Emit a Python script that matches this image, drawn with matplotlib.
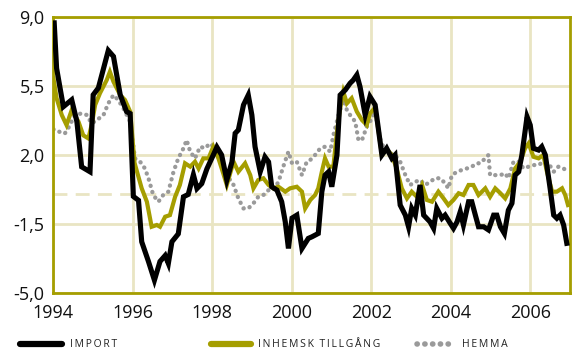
import matplotlib
matplotlib.use("Agg")
import matplotlib.pyplot as plt
from matplotlib.lines import Line2D

plt.rcParams["font.family"] = ["Open Sans", "DejaVu Sans"]

# --- data (decimal year, percent) ---
import_t = [1994.03, 1994.09, 1994.26, 1994.47, 1994.60, 1994.72, 1994.93, 1995.01, 1995.14, 1995.39,
            1995.52, 1995.69, 1995.85, 1995.94, 1996.02, 1996.15, 1996.23, 1996.40, 1996.55, 1996.69,
            1996.82, 1996.90, 1996.99, 1997.15, 1997.28, 1997.40, 1997.53, 1997.62, 1997.74, 1997.87,
            1998.03, 1998.12, 1998.24, 1998.37, 1998.50, 1998.58, 1998.66, 1998.79, 1998.91, 1999.00,
            1999.08, 1999.21, 1999.33, 1999.42, 1999.50, 1999.63, 1999.75, 1999.84, 1999.92, 2000.01,
            2000.13, 2000.26, 2000.42, 2000.51, 2000.67, 2000.76, 2000.84, 2000.93, 2001.01, 2001.14,
            2001.22, 2001.35, 2001.47, 2001.55, 2001.64, 2001.72, 2001.85, 2001.97, 2002.10, 2002.18,
            2002.27, 2002.39, 2002.52, 2002.60, 2002.73, 2002.86, 2002.94, 2003.02, 2003.11, 2003.23,
            2003.32, 2003.48, 2003.57, 2003.65, 2003.78, 2003.86, 2003.99, 2004.07, 2004.16, 2004.24,
            2004.32, 2004.45, 2004.53, 2004.62, 2004.70, 2004.83, 2004.95, 2005.08, 2005.16, 2005.25,
            2005.35, 2005.45, 2005.54, 2005.62, 2005.71, 2005.79, 2005.92, 2006.00, 2006.08, 2006.21,
            2006.29, 2006.38, 2006.50, 2006.59, 2006.67, 2006.75, 2006.84, 2006.92]
import_v = [8.7, 6.4, 4.45, 4.8, 3.7, 1.4, 1.15, 5.05, 5.4, 7.3,
            7.0, 5.05, 4.2, 4.1, -0.1, -0.3, -2.4, -3.4, -4.35, -3.4,
            -3.1, -3.5, -2.4, -2.0, -0.12, 0.0, 1.0, 0.3, 0.55, 1.3,
            2.0, 2.4, 2.0, 0.73, 1.65, 3.1, 3.27, 4.54, 5.04, 4.03,
            2.42, 1.15, 1.9, 1.65, 0.39, 0.22, -0.37, -1.39, -2.74, -1.2,
            -1.05, -2.74, -2.23, -2.15, -1.98, 0.14, 0.98, 1.15, 0.39, 2.0,
            5.04, 5.3, 5.64, 5.8, 6.06, 5.46, 4.03, 4.96, 4.54, 3.35,
            2.0, 2.34, 1.83, 2.0, -0.54, -1.05, -1.64, -0.71, -1.05, 0.48,
            -1.05, -1.39, -1.72, -0.71, -1.21, -1.05, -1.47, -1.72, -1.39, -0.88,
            -1.55, -0.37, -0.37, -1.05, -1.64, -1.64, -1.8, -1.05, -1.05, -1.64,
            -1.98, -0.8, -0.45, 0.98, 1.15, 2.0, 3.94, 3.52, 2.34, 2.25,
            2.42, 2.0, 0.31, -1.05, -1.21, -1.05, -1.55, -2.48]

inhemsk_t = [1994.01, 1994.09, 1994.22, 1994.34, 1994.47, 1994.64, 1994.76, 1994.89, 1994.97, 1995.06,
             1995.18, 1995.35, 1995.43, 1995.52, 1995.69, 1995.81, 1995.94, 1996.05, 1996.23, 1996.36,
             1996.48, 1996.61, 1996.69, 1996.82, 1996.94, 1997.07, 1997.19, 1997.32, 1997.45, 1997.57,
             1997.66, 1997.78, 1997.91, 1998.03, 1998.16, 1998.28, 1998.37, 1998.54, 1998.66, 1998.83,
             1998.96, 1999.04, 1999.16, 1999.29, 1999.42, 1999.54, 1999.67, 1999.84, 1999.96, 2000.13,
             2000.26, 2000.34, 2000.47, 2000.59, 2000.67, 2000.76, 2000.84, 2000.93, 2001.05, 2001.14,
             2001.22, 2001.30, 2001.39, 2001.51, 2001.64, 2001.77, 2001.89, 2001.97, 2002.10, 2002.18,
             2002.27, 2002.39, 2002.52, 2002.64, 2002.77, 2002.90, 2003.02, 2003.15, 2003.28, 2003.40,
             2003.53, 2003.69, 2003.82, 2003.94, 2004.07, 2004.20, 2004.32, 2004.45, 2004.57, 2004.70,
             2004.87, 2004.99, 2005.12, 2005.25, 2005.37, 2005.50, 2005.62, 2005.75, 2005.87, 2005.96,
             2006.08, 2006.21, 2006.33, 2006.42, 2006.55, 2006.67, 2006.80, 2006.88, 2006.95]
inhemsk_v = [5.9, 4.88, 4.03, 3.52, 4.28, 3.69, 3.0, 2.84, 3.52, 4.54,
             5.13, 5.8, 6.22, 5.72, 5.04, 4.79, 4.2, 1.6, 0.31, -0.37,
             -1.64, -1.55, -1.64, -1.13, -1.05, -0.12, 0.48, 1.58, 1.41, 1.66,
             1.32, 1.83, 1.83, 2.42, 1.83, 1.07, 0.48, 1.66, 1.15, 1.58,
             0.98, 0.31, 0.73, 0.82, 0.48, 0.31, 0.39, 0.14, 0.31, 0.39,
             0.14, -0.71, -0.28, -0.03, 0.31, 1.15, 1.83, 1.41, 1.41, 3.18,
             4.37, 5.21, 4.62, 4.88, 4.2, 3.77, 3.52, 4.11, 4.4, 3.3,
             2.0, 2.3, 2.0, 1.32, 0.31, -0.2, 0.14, -0.12, 0.48, -0.28,
             -0.37, 0.14, -0.2, -0.54, -0.28, 0.06, -0.03, 0.48, 0.48, -0.03,
             0.31, -0.12, 0.31, 0.06, -0.2, 0.31, 1.32, 1.66, 2.34, 2.59,
             1.91, 1.83, 2.0, 1.15, 0.14, 0.14, 0.31, -0.03, -0.54]

hemma_t = [1994.01, 1994.09, 1994.22, 1994.30, 1994.38, 1994.55, 1994.72, 1994.85, 1994.97, 1995.10,
           1995.27, 1995.39, 1995.52, 1995.64, 1995.77, 1995.94, 1996.06, 1996.19, 1996.31, 1996.40,
           1996.52, 1996.65, 1996.77, 1996.90, 1997.03, 1997.15, 1997.28, 1997.36, 1997.45, 1997.57,
           1997.70, 1997.82, 1997.95, 1998.08, 1998.20, 1998.37, 1998.54, 1998.66, 1998.79, 1998.91,
           1999.04, 1999.16, 1999.29, 1999.42, 1999.54, 1999.67, 1999.79, 1999.92, 2000.01, 2000.13,
           2000.26, 2000.38, 2000.47, 2000.59, 2000.72, 2000.84, 2000.97, 2001.05, 2001.18, 2001.30,
           2001.39, 2001.47, 2001.60, 2001.68, 2001.77, 2001.89, 2001.97, 2002.10, 2002.23, 2002.35,
           2002.48, 2002.60, 2002.73, 2002.86, 2002.98, 2003.11, 2003.23, 2003.36, 2003.48, 2003.61,
           2003.74, 2003.86, 2003.94, 2004.03, 2004.16, 2004.28, 2004.41, 2004.53, 2004.66, 2004.74,
           2004.87, 2004.95, 2004.99, 2005.12, 2005.25, 2005.37, 2005.45, 2005.58, 2005.71, 2005.83,
           2005.96, 2006.08, 2006.21, 2006.33, 2006.46, 2006.59, 2006.71, 2006.84, 2006.96]
hemma_v = [3.3, 3.27, 3.1, 3.1, 3.35, 4.03, 4.11, 4.03, 3.6, 3.77,
           4.03, 4.62, 5.04, 4.79, 4.37, 3.69, 1.83, 1.66, 1.32, 0.82,
           -0.03, -0.37, -0.03, 0.14, 1.15, 1.83, 2.34, 2.76, 2.17, 1.83,
           2.42, 2.34, 2.59, 2.34, 1.66, 0.98, 0.48, -0.2, -0.71, -0.71,
           -0.45, -0.12, -0.03, 0.22, 0.22, 0.64, 1.41, 2.17, 1.58, 1.66,
           0.98, 1.66, 1.75, 2.0, 2.34, 2.42, 2.17, 3.0, 4.03, 4.79,
           4.28, 4.03, 3.69, 2.76, 2.76, 3.44, 3.69, 4.2, 2.8, 2.2,
           2.08, 2.0, 1.66, 0.98, 0.48, 0.64, 0.73, 0.48, 0.64, 0.82,
           0.82, 0.56, 0.31, 0.98, 1.15, 1.24, 1.32, 1.41, 1.58, 1.58,
           1.83, 2.0, 0.98, 0.98, 0.98, 1.07, 0.82, 1.66, 1.66, 1.32,
           1.41, 1.49, 1.49, 1.66, 1.58, 1.15, 1.41, 1.32, 1.07]

y_ticks = [-5.0, -1.5, 2.0, 5.5, 9.0]
x_ticks = [1994, 1996, 1998, 2000, 2002, 2004, 2006]

OLIVE = "#a59e00"
GRID = "#e9e5c3"
GREY = "#9a9a9a"

fig = plt.figure(figsize=(5.75, 3.52), dpi=100)
ax = fig.add_axes([0.0922, 0.1676, 0.8991, 0.7841])

ax.set_xlim(1994, 2007)
ax.set_ylim(-5, 9)
ax.set_yticks(y_ticks)
ax.set_yticklabels([f"{v:.1f}".replace(".", ",") for v in y_ticks])
ax.set_xticks(x_ticks)
ax.set_xticklabels([str(x) for x in x_ticks])
ax.tick_params(length=0, labelsize=13, colors="#111111")
ax.tick_params(axis="y", pad=6)
ax.tick_params(axis="x", pad=8)

ax.grid(True, color=GRID, lw=2)
ax.set_axisbelow(True)
ax.axhline(0, color=GRID, lw=2, ls=(0, (5, 3)), zorder=1)
for s in ax.spines.values():
    s.set_color(OLIVE)
    s.set_linewidth(2)

ax.plot(hemma_t, hemma_v, color=GREY, lw=3.1, ls=(0, (0.05, 1.45)),
        dash_capstyle="round", solid_capstyle="round", zorder=2)
ax.plot(inhemsk_t, inhemsk_v, color=OLIVE, lw=3.0, solid_joinstyle="miter", zorder=3)
ax.plot(import_t, import_v, color="black", lw=3.7, solid_joinstyle="miter", zorder=4)

# legend along the bottom
ly = 0.022
fig.add_artist(Line2D([0.035, 0.107], [ly, ly], color="black", lw=4.5,
                      solid_capstyle="round", transform=fig.transFigure))
fig.add_artist(Line2D([0.367, 0.437], [ly, ly], color=OLIVE, lw=4.5,
                      solid_capstyle="round", transform=fig.transFigure))
fig.add_artist(Line2D([0.725, 0.792], [ly, ly], color=GREY, lw=4, ls=(0, (0.05, 1.35)),
                      dash_capstyle="round", transform=fig.transFigure))

sp = "\u2009"
fig.text(0.121, ly, sp.join("IMPORT"), fontsize=7.5, va="center", color="#222222")
fig.text(0.449, ly, sp.join("INHEMSK") + "  " + sp.join("TILLGÅNG"), fontsize=7.5,
         va="center", color="#222222")
fig.text(0.803, ly, sp.join("HEMMA"), fontsize=7.5, va="center", color="#222222")

fig.savefig("out.png", dpi=100)
